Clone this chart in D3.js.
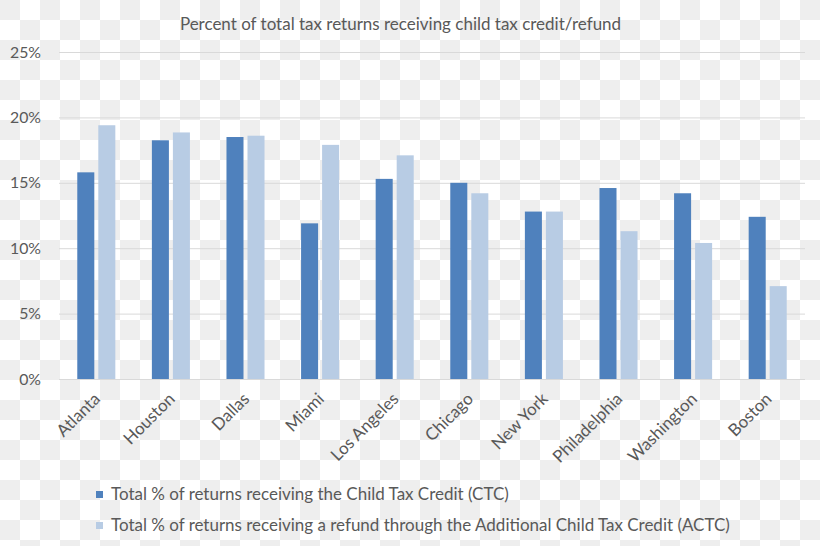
<!DOCTYPE html>
<html><head><meta charset="utf-8">
<script src="https://cdn.jsdelivr.net/npm/d3@7"></script>
<style>body{margin:0;background:#fff;} svg{display:block;}</style>
</head><body><svg id="chart" width="820" height="546"></svg>
<script>
const categories = ["Atlanta","Houston","Dallas","Miami","Los Angeles","Chicago","New York","Philadelphia","Washington","Boston"];
const ctcValues  = [15.8, 18.25, 18.5, 11.9, 15.3, 15.0, 12.8, 14.6, 14.2, 12.4];
const actcValues = [19.4, 18.85, 18.6, 17.9, 17.1, 14.2, 12.8, 11.3, 10.4, 7.1];
const seriesNames = ["Total % of returns receiving the Child Tax Credit (CTC)",
                     "Total % of returns receiving a refund through the Additional Child Tax Credit (ACTC)"];
const yTicks = [0, 5, 10, 15, 20, 25];
const chartTitle = "Percent of total tax returns receiving child tax credit/refund";

(function () {
const W = 820, H = 546;
const colors = ["#4f81bd", "#b8cce4"];
const textColor = "#595959";
const font = "Lato, 'Open Sans', sans-serif";
const svg = d3.select("#chart");

// checkerboard background
const defs = svg.append("defs");
const pat = defs.append("pattern").attr("id","checker").attr("width",40).attr("height",40).attr("patternUnits","userSpaceOnUse");
pat.append("rect").attr("width",40).attr("height",40).attr("fill","#ffffff");
pat.append("rect").attr("x",0).attr("y",0).attr("width",20).attr("height",20).attr("fill","#eeeeee");
pat.append("rect").attr("x",20).attr("y",20).attr("width",20).attr("height",20).attr("fill","#eeeeee");
svg.append("rect").attr("width",W).attr("height",H).attr("fill","url(#checker)");

const pLeft = 59, pRight = 805, pTop = 52, pBottom = 379;

const x0 = d3.scaleBand().domain(categories).range([pLeft, pRight]).paddingInner(0.49).paddingOuter(0.245);
const x1 = d3.scaleBand().domain([0,1]).range([0, x0.bandwidth()]).paddingInner(0.19).paddingOuter(0);
const y = d3.scaleLinear().domain([0, 25]).range([pBottom, pTop]);

function fit(sel, target) {
  let fs = parseFloat(sel.attr("font-size"));
  for (let i = 0; i < 3; i++) {
    const w = sel.node().getComputedTextLength();
    fs = fs * target / w;
    sel.attr("font-size", fs);
  }
  return fs;
}

// title
const t = svg.append("text").attr("x", 400.5).attr("y", 30).attr("text-anchor","middle")
  .attr("font-family", font).attr("font-size", 15).attr("fill", textColor).text(chartTitle);
fit(t, 441);

// y axis with gridlines
const yAxis = svg.append("g").attr("transform", `translate(${pLeft},0)`)
  .call(d3.axisLeft(y).tickValues(yTicks).tickSize(-(pRight-pLeft)).tickPadding(18).tickFormat(d => d + "%"));
yAxis.select(".domain").remove();
yAxis.selectAll(".tick line").attr("stroke", "#d9d9d9").attr("stroke-width", 1);
yAxis.selectAll(".tick text").attr("font-family", font).attr("font-size", 15).attr("fill", textColor);
const yfs = fit(yAxis.selectAll(".tick text").filter(d => d === 25), 31);
yAxis.selectAll(".tick text").attr("font-size", yfs);

// bars
const data = categories.map((c, i) => ({cat: c, vals: [ctcValues[i], actcValues[i]]}));
const groups = svg.append("g").selectAll("g").data(data).join("g")
  .attr("transform", d => `translate(${x0(d.cat)},0)`);
groups.selectAll("rect").data(d => d.vals.map((v, k) => ({k, v}))).join("rect")
  .attr("x", d => x1(d.k)).attr("width", x1.bandwidth())
  .attr("y", d => y(d.v)).attr("height", d => y(0) - y(d.v))
  .attr("fill", d => colors[d.k]);

// legend
const legend = svg.append("g");
const legY = [500, 531];
const legTexts = seriesNames.map((n, k) => {
  legend.append("rect").attr("x", 96).attr("y", legY[k] - 9).attr("width", 7).attr("height", 7).attr("fill", colors[k]);
  return legend.append("text").attr("x", 111).attr("y", legY[k]).attr("font-family", font)
    .attr("font-size", 15).attr("fill", textColor).text(n);
});
const lfs = fit(legTexts[1], 619);
legTexts[0].attr("font-size", lfs);

// x axis labels
const xAxis = svg.append("g").attr("transform", `translate(0,${pBottom})`)
  .call(d3.axisBottom(x0).tickSize(0).tickPadding(0));
xAxis.select(".domain").remove();
xAxis.selectAll(".tick text")
  .attr("font-family", font).attr("font-size", lfs).attr("fill", textColor)
  .attr("text-anchor", "end").attr("dy", 0).attr("y", 0)
  .attr("transform", "translate(5,21) rotate(-45)");
})();
</script></body></html>
